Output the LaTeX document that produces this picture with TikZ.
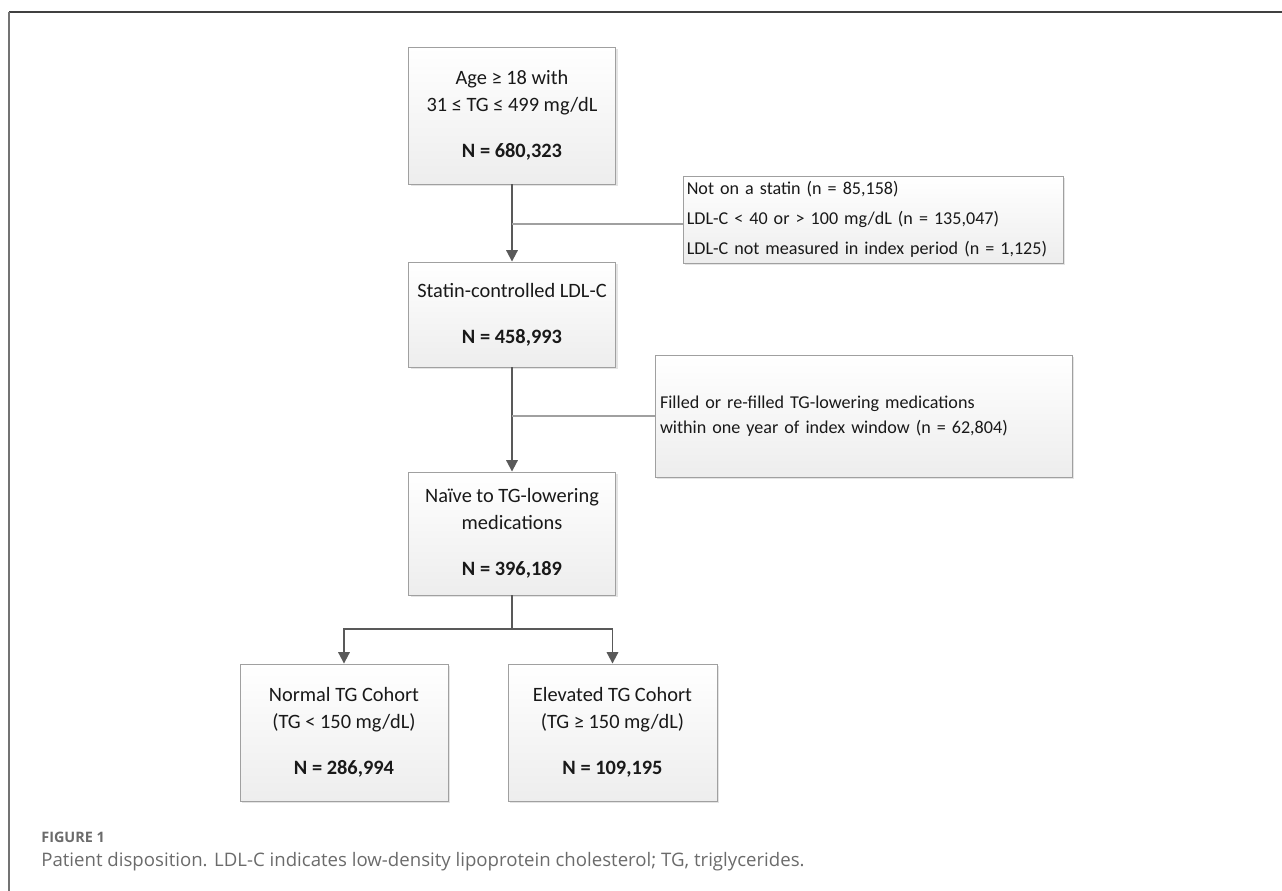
\documentclass[tikz,border=0pt]{standalone}
\usepackage{fontspec}
\setmainfont{Carlito}
\newfontfamily\capfont{Open Sans}
\usetikzlibrary{arrows.meta,shadows}
\definecolor{boxline}{HTML}{A0A0A0}
\definecolor{flowline}{HTML}{595959}
\definecolor{capgrey}{HTML}{6B6B6B}
\begin{document}
\begin{tikzpicture}[x=0.02cm,y=-0.02cm]
\useasboundingbox (0,0) rectangle (1282,891);
\draw[line width=1.1pt,black!75] (9,12) -- (1282,12);
\draw[line width=1.1pt,black!55] (9,12) -- (9,891);

\begin{scope}[every node/.style={draw=boxline,line width=0.5pt,
      top color=white,bottom color=black!7,
      drop shadow={shadow xshift=1.2pt,shadow yshift=-1.2pt,fill=black!30,opacity=0.35},
      inner sep=0pt,font=\fontsize{11.6}{15}\selectfont,text=black!90}]
    \node[minimum width=4.14cm,minimum height=2.74cm,align=center] (A) at (512,115.5)
        {Age ≥ 18 with\\31 ≤ TG ≤ 499 mg/dL\\[0.4cm]\textbf{N = 680,323}};
    \node[minimum width=4.14cm,minimum height=2.10cm,align=center] (B) at (512,314.5)
        {Statin-controlled LDL-C\\[0.4cm]\textbf{N = 458,993}};
    \node[minimum width=4.14cm,minimum height=2.46cm,align=center] (C) at (512,533.5)
        {Naïve to TG-lowering\\medications\\[0.4cm]\textbf{N = 396,189}};
    \node[minimum width=4.16cm,minimum height=2.74cm,align=center] (D) at (344,732.5)
        {Normal TG Cohort\\(TG < 150 mg/dL)\\[0.4cm]\textbf{N = 286,994}};
    \node[minimum width=4.18cm,minimum height=2.74cm,align=center] (E) at (612.5,732.5)
        {Elevated TG Cohort\\(TG ≥ 150 mg/dL)\\[0.4cm]\textbf{N = 109,195}};
    \node[minimum width=7.6cm,minimum height=1.74cm,text width=7.45cm,align=left,
          font=\fontsize{10.3}{14}\selectfont] (X1) at (873,219.5)
        {Not on a statin (n = 85,158)\\[3pt]LDL-C < 40 or > 100 mg/dL (n = 135,047)\\[3pt]LDL-C not measured in index period (n = 1,125)};
    \node[minimum width=8.34cm,minimum height=2.44cm,text width=8.14cm,align=left,
          font=\fontsize{10.3}{14}\selectfont] (X2) at (863.5,416)
        {Filled or re-filled TG-lowering medications\\within one year of index window (n = 62,804)};
\end{scope}

\coordinate (x1) at (512,224);
\coordinate (x2) at (512,416);
\coordinate (s) at (512,629);

\begin{scope}[>={Triangle[length=6.5pt,width=6.5pt]},
              every edge/.style={draw=flowline,line width=1.1pt}]
    \path [->] (A) edge (B);
    \path [->] (B) edge (C);
    \draw [flowline,line width=1.1pt] (C) -- (s);
    \draw [->,flowline,line width=1.1pt] (s) -| (D);
    \draw [->,flowline,line width=1.1pt] (s) -| (E);
    \draw [boxline,line width=0.6pt] (x1) -- (x1 -| X1.west);
    \draw [boxline,line width=0.6pt] (x2) -- (x2 -| X2.west);
\end{scope}

\node[anchor=base west,inner sep=0pt,text=capgrey,font=\capfont\fontsize{8.2}{10}\selectfont\bfseries] (fig) at (41,842) {FIGURE 1};
\node[anchor=base west,inner sep=0pt,text=capgrey,font=\capfont\fontsize{10.6}{12}\selectfont] (cap) at (41,866)
    {Patient disposition. LDL-C indicates low-density lipoprotein cholesterol; TG, triglycerides.};
\end{tikzpicture}
\end{document}
